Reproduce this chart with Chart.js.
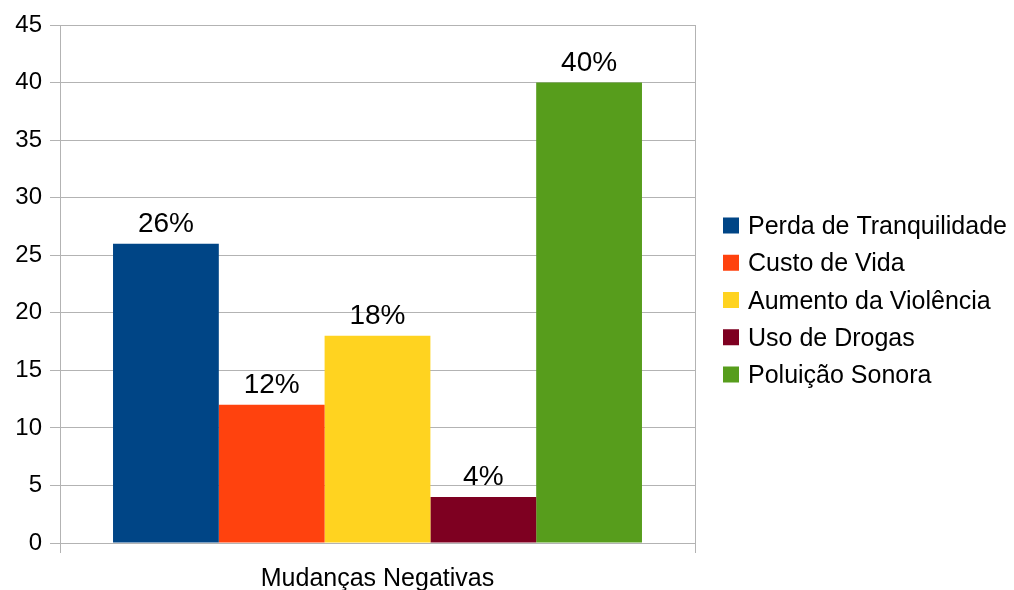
<!DOCTYPE html>
<html>
  <head>
    <meta charset="utf-8">
    <title>Mudanças Negativas</title>
    <script src="https://cdn.jsdelivr.net/npm/chart.js@4.4.0/dist/chart.umd.min.js"></script>
    <style>
      body { margin: 0; background: #fff; }
      #wrap { width: 1014px; height: 590px; }
    </style>
  </head>
  <body>
  <div id="wrap"><canvas id="myChart" width="1014" height="590"></canvas></div>
  <script>
    // data
    const categories = ['Mudanças Negativas'];
    const seriesNames = ['Perda de Tranquilidade', 'Custo de Vida', 'Aumento da Violência', 'Uso de Drogas', 'Poluição Sonora'];
    const seriesValues = [26, 12, 18, 4, 40];
    const seriesLabels = ['26%', '12%', '18%', '4%', '40%'];
    const seriesColors = ['#004586', '#ff420e', '#ffd320', '#7e0021', '#579d1c'];

    const FONT = '"Liberation Sans", Arial, sans-serif';
    const GRID = '#b3b3b3';

    // draws the % label above every bar
    const barLabels = {
      id: 'barLabels',
      afterDatasetsDraw(chart) {
        let ctx = chart.ctx;
        ctx.save();
        ctx.font = '28px ' + FONT;
        ctx.fillStyle = '#000';
        ctx.textAlign = 'center';
        ctx.textBaseline = 'alphabetic';
        chart.data.datasets.forEach((ds, i) => {
          chart.getDatasetMeta(i).data.forEach(bar => {
            ctx.fillText(seriesLabels[i], bar.x, bar.y - 12);
          });
        });
        ctx.restore();
      }
    };

    // legend on the right, built from the datasets
    const sideLegend = {
      id: 'sideLegend',
      afterDraw(chart) {
        let ctx = chart.ctx;
        let area = chart.chartArea;
        let items = chart.data.datasets;
        let step = 37.25;
        let x = area.right + 28;
        let mid = (area.top + area.bottom) / 2 + 16;
        let y0 = mid - step * (items.length - 1) / 2;
        ctx.save();
        ctx.font = '25px ' + FONT;
        ctx.textAlign = 'left';
        ctx.textBaseline = 'alphabetic';
        items.forEach((ds, i) => {
          let cy = y0 + i * step;
          ctx.fillStyle = ds.backgroundColor;
          ctx.fillRect(x, cy - 8, 16, 16);
          ctx.fillStyle = '#000';
          ctx.fillText(ds.label, x + 25, cy + 8.5);
        });
        ctx.restore();
      }
    };

    let ctx = document.getElementById('myChart').getContext('2d');
    let myChart = new Chart(ctx, {
      type: 'bar',
      data: {
        labels: categories,
        datasets: seriesNames.map((name, i) => ({
          label: name,
          data: [seriesValues[i]],
          backgroundColor: seriesColors[i],
          borderWidth: 0,
          barPercentage: 1,
          categoryPercentage: 0.833
        }))
      },
      options: {
        responsive: false,
        animation: false,
        devicePixelRatio: 1,
        layout: { padding: { top: 25, right: 319, left: 0, bottom: 0 } },
        plugins: {
          tooltip: { enabled: false },
          legend: { display: false }
        },
        scales: {
          x: {
            grid: { color: GRID, tickLength: 10 },
            border: { color: GRID },
            ticks: { color: '#000', font: { family: FONT, size: 25 }, padding: 11 },
            afterFit(scale) { scale.height = 47; }
          },
          y: {
            min: 0,
            max: 45,
            grid: { color: GRID, tickLength: 10 },
            border: { color: GRID },
            ticks: { stepSize: 5, color: '#000', font: { family: FONT, size: 24 }, padding: 8 },
            afterFit(scale) { scale.width = 60; }
          }
        }
      },
      plugins: [barLabels, sideLegend]
    });
  </script>
  </body>
</html>
